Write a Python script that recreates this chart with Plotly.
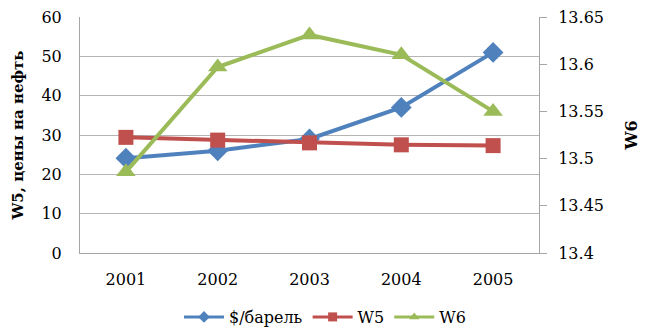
import plotly.graph_objects as go

years = ["2001", "2002", "2003", "2004", "2005"]
price = [24.1, 26.0, 29.0, 37.0, 51.0]
w5 = [29.4, 28.7, 28.0, 27.5, 27.3]
w6 = [13.486, 13.597, 13.631, 13.610, 13.550]

left_ticks = [0, 10, 20, 30, 40, 50, 60]
right_ticks = [13.4, 13.45, 13.5, 13.55, 13.6, 13.65]
right_text = ["13.4", "13.45", "13.5", "13.55", "13.6", "13.65"]

series = [
    ("$/барель", price, "#4F81BD", "diamond", 16, "y"),
    ("W5", w5, "#C0504D", "square", 15, "y"),
    ("W6", w6, "#9BBB59", "triangle-up", 17, "y2"),
]

FONT = "DejaVu Serif"
fig = go.Figure()
for name, vals, color, sym, size, ax in series:
    fig.add_trace(go.Scatter(x=years, y=vals, name=name, mode="lines+markers", yaxis=ax,
                             showlegend=False,
                             line=dict(color=color, width=4),
                             marker=dict(symbol=sym, size=size, color=color)))
for name, vals, color, sym, size, ax in series:
    fig.add_trace(go.Scatter(x=[None], y=[None], name=name, mode="lines+markers", yaxis=ax,
                             showlegend=True,
                             line=dict(color=color, width=3),
                             marker=dict(symbol=sym, size=9, color=color)))

fig.update_layout(
    width=650, height=334,
    margin=dict(l=80, r=111, t=17, b=81, autoexpand=False),
    paper_bgcolor="white", plot_bgcolor="white",
    font=dict(family=FONT, size=16, color="#000000"),
    showlegend=True,
    legend=dict(orientation="h", xref="container", x=0.5, xanchor="center",
                yref="container", y=0.0, yanchor="bottom",
                font=dict(size=16, family=FONT), itemwidth=40, tracegroupgap=0),
    xaxis=dict(type="category", range=[-0.5, 4.5], showgrid=False,
               showline=True, linecolor="#A6A6A6", linewidth=1,
               ticks="", ticklabelstandoff=12, tickfont=dict(size=16, family=FONT)),
    yaxis=dict(range=[0, 60], tickvals=left_ticks, showgrid=True,
               gridcolor="#B5B5B5", gridwidth=1, zeroline=False,
               showline=True, linecolor="#A6A6A6", linewidth=1,
               ticks="", ticklabelstandoff=14, tickfont=dict(size=16, family=FONT),
               title=dict(text="<b>W5, цены на нефть</b>", font=dict(size=15, family=FONT), standoff=14)),
    yaxis2=dict(range=[13.4, 13.65], tickvals=right_ticks, ticktext=right_text,
                overlaying="y", side="right", showgrid=False, zeroline=False,
                showline=True, linecolor="#A6A6A6", linewidth=1,
                ticks="outside", ticklen=7, tickcolor="#A6A6A6",
                ticklabelstandoff=8, tickfont=dict(size=16, family=FONT),
                title=dict(text="<b>W6</b>", font=dict(size=16, family=FONT), standoff=22)),
)

fig.write_html("out.html")
